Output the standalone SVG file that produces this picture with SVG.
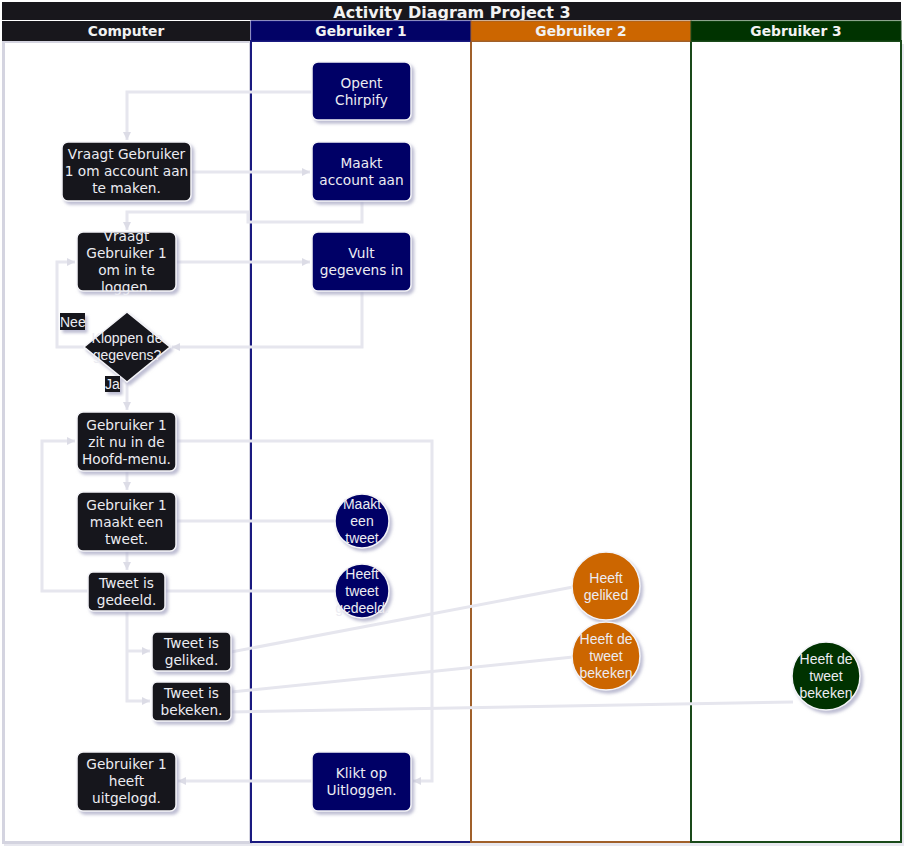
<svg xmlns="http://www.w3.org/2000/svg" width="914" height="854" viewBox="0 0 914 854">
<defs>
<filter id="sh" x="-20%" y="-20%" width="150%" height="150%">
<feDropShadow dx="2.5" dy="3" stdDeviation="1.5" flood-color="#a8a8c4" flood-opacity="0.75"/>
</filter>
<marker id="ar" markerUnits="userSpaceOnUse" markerWidth="10" markerHeight="10" refX="8" refY="4" orient="auto">
<path d="M0,0 L8,4 L0,8 z" fill="#dcdce6"/>
</marker>
<style>
.hd{font-family:"DejaVu Sans",Verdana,sans-serif;font-weight:bold;font-size:13.8px;fill:#f2f2f2;text-anchor:middle}
.tt{font-family:"DejaVu Sans",Verdana,sans-serif;font-weight:bold;font-size:16px;fill:#f2f2f2;text-anchor:middle}
.nt{font-family:"DejaVu Sans",Verdana,sans-serif;font-size:13.7px;fill:#ececf2;text-anchor:middle}
.ct{font-family:"Liberation Sans",Arial,sans-serif;font-size:14px;fill:#ececf2;text-anchor:middle}
.lb{font-family:"Liberation Sans",Arial,sans-serif;font-size:14px;fill:#ececf2}
.node{stroke:#f4f4f8;stroke-width:1.5;filter:url(#sh)}
.cmp{fill:#18171c}
.g1{fill:#020266}
.g2{fill:#cc6600}
.g3{fill:#003300}
.cn{fill:none;stroke:#e6e6ee;stroke-width:3}
.ca{fill:none;stroke:#e6e6ee;stroke-width:3;marker-end:url(#ar)}
</style>
</defs>
<rect width="914" height="854" fill="#ffffff"/>
<g id="lanes">
<rect x="4" y="44" width="900" height="802" fill="#d8d8e4" opacity="0.6"/>
<rect x="3.5" y="41.5" width="247" height="801" fill="#ffffff" stroke="#d4d4e0" stroke-width="3"/>
<rect x="251" y="41" width="220" height="801" fill="#ffffff" stroke="#1a1a80" stroke-width="2"/>
<rect x="471" y="41" width="220" height="801" fill="#ffffff" stroke="#a0602a" stroke-width="2"/>
<rect x="691" y="41" width="210" height="801" fill="#ffffff" stroke="#1a4a1a" stroke-width="2"/>
<rect x="2" y="2" width="899" height="18" fill="#18171c"/>
<text class="tt" x="452" y="18">Activity Diagram Project 3</text>
<rect x="2" y="21" width="248" height="20" fill="#18171c"/>
<rect x="251" y="21" width="220" height="20" fill="#020266" stroke="#1a1a80" stroke-width="1"/>
<rect x="471" y="21" width="220" height="20" fill="#cc6600" stroke="#a0602a" stroke-width="1"/>
<rect x="691" y="21" width="210" height="20" fill="#003300" stroke="#1a4a1a" stroke-width="1"/>
<text class="hd" x="126" y="36">Computer</text>
<text class="hd" x="361" y="36">Gebruiker 1</text>
<text class="hd" x="581" y="36">Gebruiker 2</text>
<text class="hd" x="796" y="36">Gebruiker 3</text>
</g>
<g id="connectors">
<path class="ca" d="M312,92 H127 V140"/>
<path class="ca" d="M191,172 H310"/>
<path class="ca" d="M362,201 V222 H248 V212 H127 V230"/>
<path class="ca" d="M176,262 H310"/>
<path class="ca" d="M362,291 V347 H172"/>
<path class="ca" d="M84,347 H57 V262 H75"/>
<path class="ca" d="M127,382 V410"/>
<path class="ca" d="M127,471 V490"/>
<path class="cn" d="M176,521 H336"/>
<path class="ca" d="M127,551 V570"/>
<path class="ca" d="M88,591 H42 V441 H75"/>
<path class="cn" d="M165,591 H336"/>
<path class="ca" d="M176,441 H432 V781 H413"/>
<path class="ca" d="M312,781 H178"/>
<path class="ca" d="M127,611 V701 H150"/>
<path class="ca" d="M127,651 H150"/>
<path class="cn" d="M231,652 L573,587"/>
<path class="cn" d="M231,692 L573,657"/>
<path class="cn" d="M231,712 L793,702"/>
</g>
<g id="n-opent">
<rect class="node g1" x="312" y="62" width="99" height="58" rx="6"/>
<text class="nt" x="361.5" y="88">Opent</text>
<text class="nt" x="361.5" y="105">Chirpify</text>
</g>
<g id="n-vraagt-account">
<rect class="node cmp" x="62" y="142" width="129" height="59" rx="6"/>
<text class="nt" x="126.5" y="159">Vraagt Gebruiker</text>
<text class="nt" x="126.5" y="176">1 om account aan</text>
<text class="nt" x="126.5" y="193">te maken.</text>
</g>
<g id="n-maakt-account">
<rect class="node g1" x="312" y="142" width="99" height="59" rx="6"/>
<text class="nt" x="361.5" y="168">Maakt</text>
<text class="nt" x="361.5" y="185">account aan</text>
</g>
<g id="n-vraagt-login">
<rect class="node cmp" x="77" y="232" width="99" height="59" rx="6"/>
<text class="nt" x="126.5" y="241">Vraagt</text>
<text class="nt" x="126.5" y="258">Gebruiker 1</text>
<text class="nt" x="126.5" y="275">om in te</text>
<text class="nt" x="126.5" y="292">loggen.</text>
</g>
<g id="n-vult">
<rect class="node g1" x="312" y="232" width="99" height="59" rx="6"/>
<text class="nt" x="361.5" y="258">Vult</text>
<text class="nt" x="361.5" y="275">gegevens in</text>
</g>
<g id="n-kloppen">
<path class="node cmp" d="M127,312 L170,347 L127,382 L84,347 Z"/>
<text class="ct" x="127" y="343">Kloppen de</text>
<text class="ct" x="127" y="360">gegevens?</text>
</g>
<g id="lbl-nee">
<rect x="60" y="313" width="25" height="17" fill="#18171c" filter="url(#sh)"/>
<text class="lb" x="60" y="327">Nee</text>
</g>
<g id="lbl-ja">
<rect x="105" y="376" width="15" height="16" fill="#18171c" filter="url(#sh)"/>
<text class="lb" x="105" y="389">Ja</text>
</g>
<g id="n-hoofdmenu">
<rect class="node cmp" x="77" y="412" width="99" height="59" rx="6"/>
<text class="nt" x="126.5" y="430">Gebruiker 1</text>
<text class="nt" x="126.5" y="447">zit nu in de</text>
<text class="nt" x="126.5" y="464">Hoofd-menu.</text>
</g>
<g id="n-maakt-tweet">
<rect class="node cmp" x="77" y="492" width="99" height="59" rx="6"/>
<text class="nt" x="126.5" y="510">Gebruiker 1</text>
<text class="nt" x="126.5" y="527">maakt een</text>
<text class="nt" x="126.5" y="544">tweet.</text>
</g>
<g id="n-gedeeld">
<rect class="node cmp" x="88" y="572" width="77" height="39" rx="5"/>
<text class="nt" x="126.5" y="588">Tweet is</text>
<text class="nt" x="126.5" y="605">gedeeld.</text>
</g>
<g id="n-c-maakt">
<circle class="node g1" cx="362" cy="521" r="27"/>
<text class="ct" x="362" y="509">Maakt</text>
<text class="ct" x="362" y="526">een</text>
<text class="ct" x="362" y="543">tweet</text>
</g>
<g id="n-c-gedeeld">
<circle class="node g1" cx="362" cy="591" r="27"/>
<text class="ct" x="362" y="579">Heeft</text>
<text class="ct" x="362" y="596">tweet</text>
<text class="ct" x="362" y="613">gedeeld.</text>
</g>
<g id="n-geliked">
<rect class="node cmp" x="152" y="632" width="79" height="39" rx="5"/>
<text class="nt" x="191.5" y="648">Tweet is</text>
<text class="nt" x="191.5" y="665">geliked.</text>
</g>
<g id="n-bekeken">
<rect class="node cmp" x="152" y="682" width="79" height="39" rx="5"/>
<text class="nt" x="191.5" y="698">Tweet is</text>
<text class="nt" x="191.5" y="715">bekeken.</text>
</g>
<g id="n-c-geliked">
<circle class="node g2" cx="606" cy="586" r="34"/>
<text class="ct" x="606" y="583">Heeft</text>
<text class="ct" x="606" y="600">geliked</text>
</g>
<g id="n-c-bekeken2">
<circle class="node g2" cx="606" cy="656" r="34"/>
<text class="ct" x="606" y="644">Heeft de</text>
<text class="ct" x="606" y="661">tweet</text>
<text class="ct" x="606" y="678">bekeken</text>
</g>
<g id="n-c-bekeken3">
<circle class="node g3" cx="826" cy="676" r="34"/>
<text class="ct" x="826" y="664">Heeft de</text>
<text class="ct" x="826" y="681">tweet</text>
<text class="ct" x="826" y="698">bekeken</text>
</g>
<g id="n-uitgelogd">
<rect class="node cmp" x="77" y="752" width="99" height="59" rx="6"/>
<text class="nt" x="126.5" y="769">Gebruiker 1</text>
<text class="nt" x="126.5" y="786">heeft</text>
<text class="nt" x="126.5" y="803">uitgelogd.</text>
</g>
<g id="n-klikt">
<rect class="node g1" x="312" y="752" width="99" height="59" rx="6"/>
<text class="nt" x="361.5" y="778">Klikt op</text>
<text class="nt" x="361.5" y="795">Uitloggen.</text>
</g>
</svg>
